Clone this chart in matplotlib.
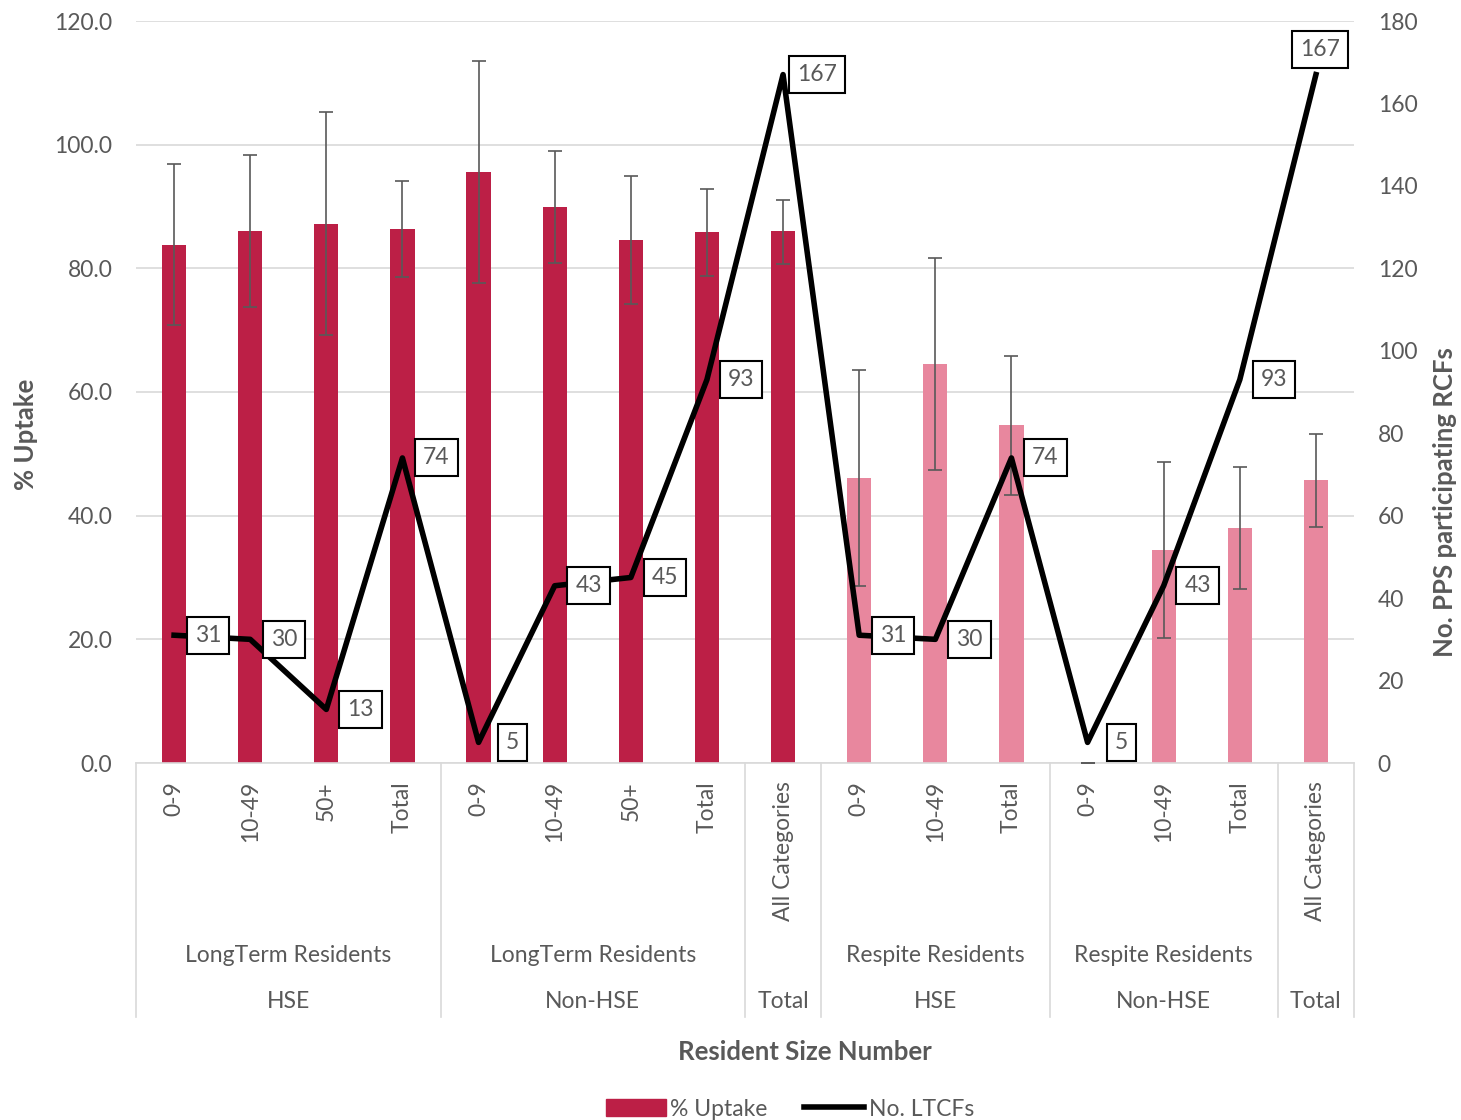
import numpy as np
import matplotlib.pyplot as plt
from matplotlib.lines import Line2D
from matplotlib.patches import Patch
import matplotlib.transforms as mtransforms

plt.rcParams['font.family'] = ['Lato', 'DejaVu Sans']

# data
sizes = ['0-9', '10-49', '50+', 'Total', '0-9', '10-49', '50+', 'Total', 'All Categories',
         '0-9', '10-49', 'Total', '0-9', '10-49', 'Total', 'All Categories']
uptake = [83.7, 86.1, 87.2, 86.4, 95.5, 90.0, 84.6, 85.9, 86.0,
          46.1, 64.6, 54.6, 0.0, 34.4, 38.0, 45.7]
err_low = [70.8, 73.8, 69.2, 78.6, 77.7, 80.9, 74.3, 78.7, 80.7,
           28.6, 47.4, 43.4, 0.0, 20.2, 28.2, 38.2]
err_high = [96.8, 98.4, 105.3, 94.2, 113.5, 98.9, 95.0, 92.9, 91.1,
            63.6, 81.7, 65.9, 0.0, 48.6, 47.9, 53.2]
ltcfs = [31, 30, 13, 74, 5, 43, 45, 93, 167, 31, 30, 74, 5, 43, 93, 167]
resident_groups = [('LongTerm Residents', 0, 4), ('LongTerm Residents', 4, 8), ('', 8, 9),
                   ('Respite Residents', 9, 12), ('Respite Residents', 12, 15), ('', 15, 16)]
owner_groups = [('HSE', 0, 4), ('Non-HSE', 4, 8), ('Total', 8, 9),
                ('HSE', 9, 12), ('Non-HSE', 12, 15), ('Total', 15, 16)]

dark = '#BC1F46'
light = '#E8879E'
grey = '#595959'
colors = [dark] * 9 + [light] * 7
fs = 16.5
fs_title = 18.5

fig = plt.figure(figsize=(14.61, 11.2), dpi=100)
ax = fig.add_axes([136 / 1461, 1 - 763 / 1120, (1354 - 136) / 1461, 742 / 1120])
x = np.arange(len(sizes))
up = np.array(uptake)
yerr = [up - np.array(err_low), np.array(err_high) - up]

ax.bar(x, uptake, width=0.32, color=colors, zorder=2)
ax.errorbar(x, uptake, yerr=yerr, fmt='none', ecolor=grey, elinewidth=1.2,
            capsize=5, capthick=1.2, zorder=3)
ax.set_xlim(-0.5, len(sizes) - 0.5)
ax.set_ylim(0, 120)
ax.set_yticks(np.arange(0, 121, 20))
ax.set_yticklabels([f'{v:.1f}' for v in np.arange(0, 121, 20)])
ax.grid(axis='y', color='#D9D9D9', lw=1.2, zorder=0)
ax.set_axisbelow(True)
for s in ['top', 'left', 'right']:
    ax.spines[s].set_visible(False)
ax.spines['bottom'].set_color('#D9D9D9')
ax.spines['bottom'].set_linewidth(1.2)
ax.tick_params(axis='y', length=0, labelsize=fs, labelcolor=grey, pad=17)
ax.set_xticks(x)
ax.set_xticklabels(sizes, rotation=90, fontsize=fs, color=grey, va='top')
ax.tick_params(axis='x', length=0, pad=13)

ax2 = ax.twinx()
ax2.plot(x, ltcfs, color='black', lw=4, zorder=5)
ax2.set_ylim(0, 180)
ax2.set_yticks(np.arange(0, 181, 20))
for s in ax2.spines.values():
    s.set_visible(False)
ax2.tick_params(axis='y', length=0, labelsize=fs, labelcolor=grey, pad=17)
for i, (xi, v) in enumerate(zip(x, ltcfs)):
    off = (4, 25) if i == len(ltcfs) - 1 else (34, 0)
    ax2.annotate(str(v), (xi, v), xytext=off, textcoords='offset pixels',
                 ha='center', va='center', fontsize=fs, color=grey,
                 bbox=dict(boxstyle='square,pad=0.35', fc='white', ec='black', lw=1.5), zorder=6)

# axis titles
fig.text(26 / 1461, 1 - 434 / 1120, '% Uptake', rotation=90, ha='center', va='center',
         fontsize=fs_title, fontweight='bold', color=grey)
fig.text(1445 / 1461, 1 - 502 / 1120, 'No. PPS participating RCFs', rotation=90, ha='center',
         va='center', fontsize=fs_title, fontweight='bold', color=grey)
fig.text(805 / 1461, 1 - 1052 / 1120, 'Resident Size Number', ha='center',
         va='center', fontsize=fs_title, fontweight='bold', color=grey)

# multi-level category axis
trans = mtransforms.blended_transform_factory(ax.transData, ax.transAxes)
def ay(py):
    return (763 - py) / 742

bounds = [-0.5, 3.5, 7.5, 8.5, 11.5, 14.5, 15.5]
for b in bounds:
    ax.add_line(Line2D([b, b], [ay(763), ay(1017)], transform=trans, color='#D9D9D9',
                       lw=1.2, clip_on=False))
for name, a, b in resident_groups:
    if name:
        ax.text((a + b - 1) / 2, ay(955), name, transform=trans, ha='center', va='center',
                fontsize=fs, color=grey)
for name, a, b in owner_groups:
    ax.text((a + b - 1) / 2, ay(1002), name, transform=trans, ha='center', va='center',
            fontsize=fs, color=grey)

handles = [Patch(color=dark), Line2D([0], [0], color='black', lw=4)]
fig.legend(handles, ['% Uptake', 'No. LTCFs'], loc='center', ncol=2,
           bbox_to_anchor=(790 / 1461, 1 - 1109 / 1120), frameon=False, fontsize=fs,
           labelcolor=grey, handlelength=2.6, handletextpad=0.2, columnspacing=1.6)

fig.savefig('out.png', dpi=100)
